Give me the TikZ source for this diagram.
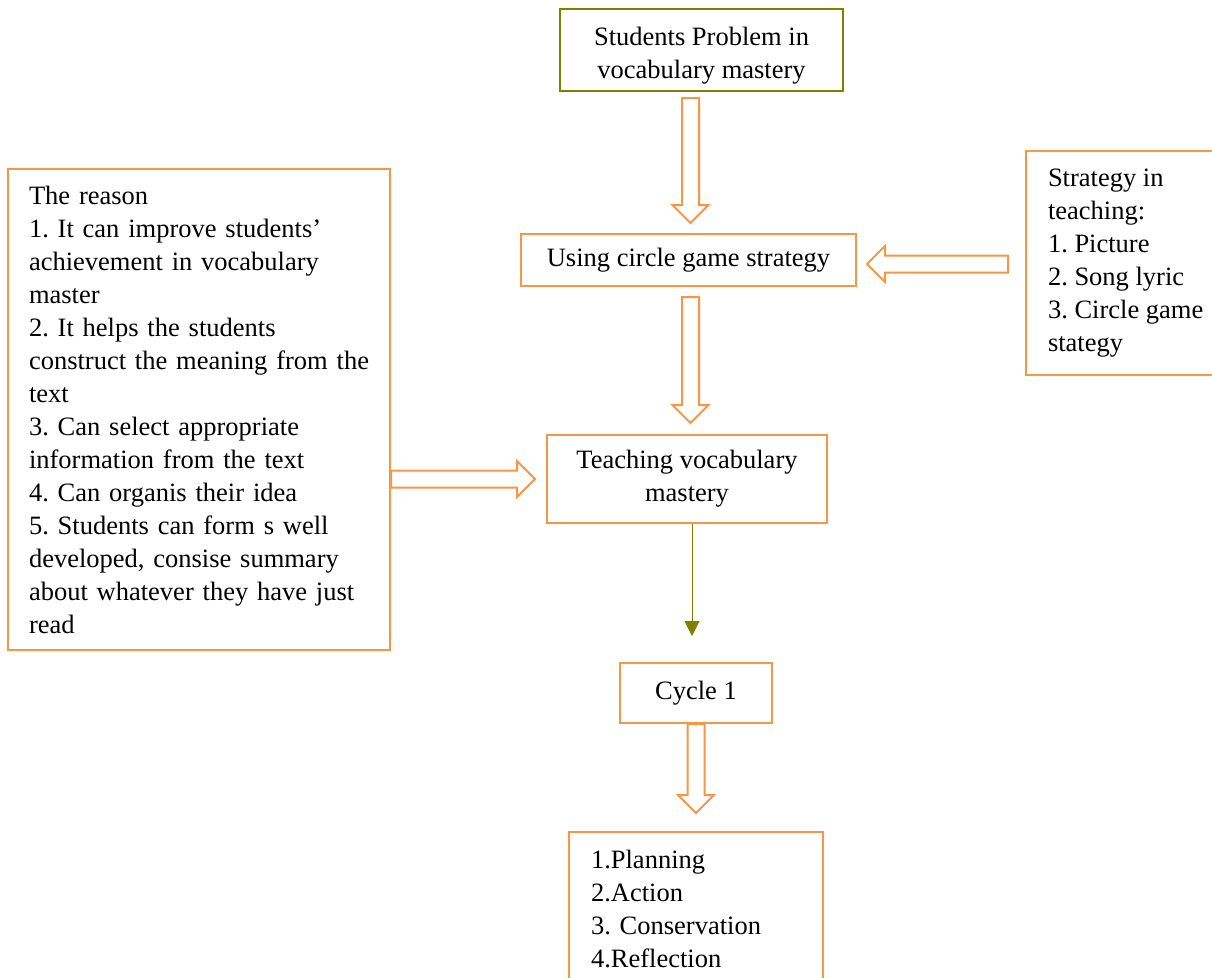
\documentclass[tikz,border=0pt]{standalone}
\usepackage{fontspec}
\setmainfont{Liberation Serif}
\frenchspacing
\usetikzlibrary{calc,arrows.meta}
\definecolor{boxorange}{HTML}{F79646}
\definecolor{boxolive}{HTML}{7F7F00}
% hollow block arrow from #1 to #2
\newcommand{\hollowarrow}[2]{%
  \coordinate (hs) at #1;
  \coordinate (he) at #2;
  \coordinate (hb) at ($(he)!18pt!(hs)$);
  \draw[blockarrow] ($(hs)!8.5pt!90:(he)$) -- ($(hb)!8.5pt!-90:(hs)$) -- ($(hb)!18pt!-90:(hs)$) -- (he)
    -- ($(hb)!18pt!90:(hs)$) -- ($(hb)!8.5pt!90:(hs)$) -- ($(hs)!8.5pt!-90:(he)$) -- cycle;}
\begin{document}
\begin{tikzpicture}[x=1pt,y=-1pt,
    every node/.style={font=\fontsize{26.5}{33}\selectfont, inner sep=0pt},
    orangebox/.style={draw=boxorange, line width=2pt},
    olivebox/.style={draw=boxolive, line width=2pt},
    blockarrow/.style={draw=boxorange, line width=2pt, line join=miter},
    thinarrow/.style={draw=boxolive, line width=1pt, -{Triangle[width=15pt,length=15pt]}}]
  \useasboundingbox (0,0) rectangle (1212,977);
  % boxes
  \node[olivebox, minimum width=283pt, minimum height=82pt, align=center, text height=63pt] (problem) at (701.5,50) {Students Problem in\\vocabulary mastery};
  \node[orangebox, minimum width=335pt, minimum height=52pt] (usecircle) at (688.5,260) {Using circle game strategy};
  \node[orangebox, minimum width=280pt, minimum height=88pt, align=center] (teach) at (687,479) {Teaching vocabulary\\mastery};
  \node[orangebox, minimum width=152pt, minimum height=60pt] (cycle) at (696,693) {Cycle 1};
  \node[orangebox, anchor=north, minimum width=254pt, minimum height=154pt, text width=210pt, align=left] (steps) at (696,831) {1.Planning\\2.Action\\3. Conservation\\4.Reflection};
  \node[orangebox, anchor=north west, minimum width=382pt, minimum height=481pt, text width=340pt, align=left] (reason) at (7,168)
    {The reason\\1. It can improve students’\\achievement in vocabulary\\master\\2. It helps the students\\construct the meaning from the\\text\\3. Can select appropriate\\information from the text\\4. Can organis their idea\\5. Students can form s well\\developed, consise summary\\about whatever they have just\\read};
  \node[orangebox, anchor=west, minimum height=224pt, inner xsep=22pt, align=left] (strategy) at (1025,263)
    {Strategy in\\teaching:\\1. Picture\\2. Song lyric\\3. Circle game\\stategy};
  % arrows
  \hollowarrow{($(problem.south -| usecircle.north)+(2,6)$)}{($(usecircle.north)+(2,-10)$)}
  \hollowarrow{($(usecircle.south)+(2,10)$)}{($(usecircle.south |- teach.north)+(2,-11)$)}
  \hollowarrow{(reason.east |- teach.west)}{($(teach.west)+(-11,0)$)}
  \hollowarrow{($(strategy.west |- usecircle.east)+(-17,4)$)}{($(usecircle.east)+(10,4)$)}
  \hollowarrow{(cycle.south)}{($(cycle.south |- steps.north)+(0,-18)$)}
  \draw[thinarrow] ($(teach.south)+(5,0)$) -- ($(teach.south |- cycle.north)+(5,-26)$);
\end{tikzpicture}
\end{document}
